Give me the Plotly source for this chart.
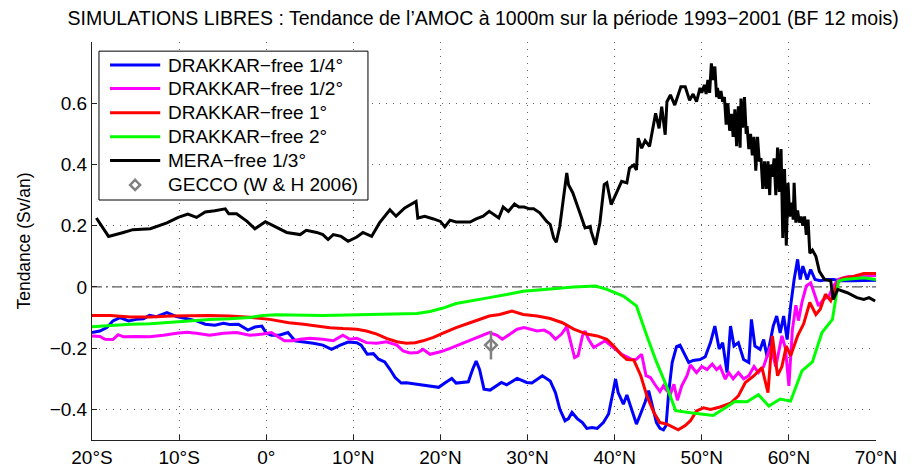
import plotly.graph_objects as go

# Latitude (deg, negative = south) and AMOC trend (Sv/an)
lat_mera = [-19.5, -18.1, -16.4, -15.3, -13.3, -11.4, -10.1, -9.0, -8.0, -7.0, -5.9, -4.7, -4.3, -3.4,
            -2.2, -1.3, -0.1, 1.0, 2.35, 3.9, 4.6, 5.8, 6.5, 7.1, 7.7, 8.6, 9.4, 10.4, 11.1, 12.1, 13.0,
            14.2, 14.9, 15.9, 16.5, 17.2, 17.4, 18.2, 19.2, 20.0, 20.5, 21.1, 21.8, 23.4, 24.1, 24.9,
            25.6, 26.7, 27.2, 27.8, 28.5, 29.0, 29.6, 30.2, 30.7, 31.4, 32.2, 32.6, 33.0, 33.3, 33.7,
            34.1, 34.5, 34.7, 35.2, 36.0, 36.6, 37.2, 37.3, 37.8, 38.3, 38.8, 39.1, 39.6, 40.0, 40.8,
            41.4, 41.7, 42.2, 42.5, 42.7, 43.1, 43.5, 44.0, 44.7, 45.1, 45.4, 45.8, 46.0, 46.4, 46.9,
            47.6, 48.1, 48.6, 49.0, 49.4,
            49.8, 50.0, 50.3, 50.5, 50.7, 50.9, 51.1, 51.3, 51.5, 51.7, 51.8, 52.0, 52.2, 52.4, 52.6,
            52.8, 53.0, 53.2, 53.4, 53.6, 53.8, 54.0, 54.2, 54.4, 54.5, 54.7, 54.9, 55.1, 55.2, 55.4,
            55.6, 55.8, 56.0, 56.2, 56.4, 56.6, 56.8, 57.0, 57.2, 57.4, 57.6, 57.8, 57.9, 58.1, 58.3,
            58.5, 58.7, 58.9, 59.1, 59.3, 59.5, 59.7, 59.9, 60.1, 60.3, 60.5, 60.6, 60.8, 61.0, 61.2,
            61.4, 61.6, 61.8, 62.0, 62.2, 62.4,
            62.7, 63.1, 63.5, 64.1, 64.8, 65.1, 65.6, 66.7, 67.8, 68.6, 69.2, 69.9]
mera = [0.225, 0.165, 0.178, 0.187, 0.19, 0.209, 0.227, 0.238, 0.227, 0.245, 0.249, 0.255, 0.239, 0.239,
        0.214, 0.19, 0.213, 0.198, 0.178, 0.171, 0.185, 0.178, 0.171, 0.155, 0.171, 0.165, 0.149, 0.163,
        0.178, 0.165, 0.209, 0.252, 0.231, 0.258, 0.269, 0.279, 0.225, 0.231, 0.222, 0.214, 0.196, 0.218,
        0.212, 0.212, 0.222, 0.231, 0.247, 0.225, 0.261, 0.247, 0.271, 0.261, 0.261, 0.255, 0.255, 0.242,
        0.214, 0.204, 0.16, 0.146, 0.198, 0.285, 0.372, 0.334, 0.307, 0.242, 0.193, 0.198, 0.181, 0.138,
        0.209, 0.334, 0.34, 0.269, 0.296, 0.345, 0.34, 0.388, 0.398, 0.382, 0.486, 0.453, 0.478, 0.459,
        0.567, 0.518, 0.589, 0.497, 0.605, 0.627, 0.594, 0.654, 0.654, 0.61, 0.63, 0.605,
        0.65, 0.634, 0.66, 0.63, 0.676, 0.634, 0.73, 0.676, 0.72, 0.62, 0.65, 0.615, 0.64, 0.605, 0.62,
        0.53, 0.6, 0.51, 0.565, 0.49, 0.58, 0.46, 0.59, 0.455, 0.615, 0.52, 0.62, 0.5, 0.525, 0.45,
        0.5, 0.43, 0.49, 0.38, 0.49, 0.41, 0.42, 0.32, 0.41, 0.32, 0.41, 0.30, 0.40, 0.36, 0.42,
        0.30, 0.455, 0.31, 0.45, 0.16, 0.385, 0.135, 0.34, 0.23, 0.275, 0.22, 0.34, 0.21, 0.25, 0.21,
        0.23, 0.2, 0.23, 0.17, 0.22, 0.11,
        0.12, 0.1, 0.051, 0.024, 0.02, -0.041, -0.008, -0.019, -0.035, -0.041, -0.035, -0.046]

lat_q4 = [-20.0, -19.1, -18.3, -17.6, -16.8, -15.8, -14.9, -14.1, -13.4, -12.6, -11.4, -10.3, -9.1, -8.0,
          -7.0, -5.9, -4.9, -4.2, -3.2, -2.1, -1.3, -0.5, 0.0, 0.6, 1.5, 2.5, 3.3, 4.3, 5.4, 6.5, 7.5,
          8.5, 9.4, 10.4, 10.9, 11.6, 12.3, 12.9, 13.6, 14.2, 14.8, 15.5, 16.1, 17.3, 18.4, 19.8, 20.5,
          21.3, 21.8, 23.2, 23.7, 24.1, 24.5, 25.0, 25.7, 26.5, 27.0, 27.6, 28.8, 29.9, 30.5, 31.7, 32.6,
          33.2, 33.7, 34.3, 34.7, 35.1, 35.7, 36.3, 36.8, 37.4, 38.0, 38.7, 39.3, 39.8, 40.1, 40.4, 41.0,
          41.4, 41.8, 42.5, 42.9, 43.5, 43.9, 44.3, 44.8, 45.2, 45.6, 45.9, 46.2, 46.6, 47.1, 47.5, 47.9,
          48.5, 49.0, 49.8, 50.4, 51.0, 51.5, 52.0, 52.4, 52.9, 53.3, 53.7, 54.2, 54.8, 55.4, 55.7, 56.1,
          56.7, 57.1, 57.5, 57.9, 58.2, 58.6, 59.0, 59.4, 59.8, 60.2, 60.6, 61.0, 61.3, 61.6, 62.1, 62.5,
          63.0, 63.6, 64.4, 65.1, 65.9, 67.4, 70.0]
drakkar_q4 = [-0.149, -0.144, -0.133, -0.111, -0.1, -0.111, -0.106, -0.104, -0.093, -0.097, -0.084, -0.097,
              -0.104, -0.111, -0.122, -0.125, -0.119, -0.123, -0.122, -0.141, -0.131, -0.128, -0.151, -0.158,
              -0.158, -0.149, -0.176, -0.179, -0.184, -0.19, -0.204, -0.19, -0.18, -0.182, -0.19, -0.22,
              -0.218, -0.236, -0.245, -0.269, -0.296, -0.314, -0.313, -0.318, -0.323, -0.328, -0.314, -0.299,
              -0.314, -0.31, -0.269, -0.242, -0.27, -0.334, -0.337, -0.323, -0.312, -0.32, -0.299, -0.312,
              -0.314, -0.29, -0.307, -0.345, -0.399, -0.437, -0.43, -0.41, -0.43, -0.443, -0.462, -0.459,
              -0.462, -0.443, -0.415, -0.345, -0.301, -0.345, -0.383, -0.353, -0.39, -0.448, -0.42, -0.376,
              -0.339, -0.387, -0.443, -0.462, -0.467, -0.453, -0.345, -0.247, -0.195, -0.19, -0.215, -0.247,
              -0.24, -0.237, -0.228, -0.182, -0.128, -0.203, -0.182, -0.28, -0.128, -0.193, -0.182, -0.237,
              -0.247, -0.106, -0.193, -0.204, -0.172, -0.228, -0.172, -0.128, -0.095, -0.15, -0.095, -0.172,
              -0.062, 0.024, 0.09, 0.024, 0.068, 0.024, 0.057, 0.024, 0.02, 0.024, 0.024, 0.02, 0.02, 0.022]

lat_q2 = [-20.0, -19.1, -18.5, -17.6, -17.0, -16.4, -14.9, -13.4, -11.8, -10.3, -9.1, -8.0, -6.5, -4.9,
          -3.4, -1.9, -0.4, 0.6, 1.5, 2.1, 3.0, 3.9, 5.0, 6.5, 7.7, 8.8, 9.6, 10.4, 11.5, 12.7, 13.8,
          15.0, 15.7, 16.5, 17.4, 18.0, 18.8, 20.0, 21.1, 22.6, 23.8, 24.7, 25.6, 26.5, 27.1, 28.0, 28.8,
          29.6, 30.3, 31.1, 31.9, 32.6, 33.2, 33.9, 34.5, 34.9, 35.4, 35.8, 36.3, 36.6, 37.0, 37.6, 38.2,
          38.9, 39.5, 40.1, 40.8, 41.4, 42.0, 42.5, 43.1, 43.6, 44.1, 44.6, 45.2, 45.6, 46.0, 46.4, 46.8,
          47.2, 47.7, 48.3, 48.7, 49.4, 50.0, 50.6, 51.2, 51.7, 52.1, 52.7, 53.1, 53.6, 54.2, 54.8, 55.4,
          56.0, 56.5, 57.1, 57.9, 58.5, 59.2, 59.6, 60.0, 60.4, 60.8, 61.1, 61.5, 62.0, 62.5, 62.9, 63.4,
          64.0, 64.6, 65.1, 65.7, 66.7, 70.0]
drakkar_q2 = [-0.16, -0.162, -0.171, -0.172, -0.156, -0.163, -0.162, -0.163, -0.158, -0.151, -0.148, -0.151,
              -0.158, -0.151, -0.149, -0.158, -0.154, -0.149, -0.165, -0.176, -0.176, -0.171, -0.168, -0.171,
              -0.176, -0.158, -0.171, -0.168, -0.182, -0.184, -0.179, -0.19, -0.209, -0.216, -0.214, -0.204,
              -0.22, -0.212, -0.201, -0.184, -0.172, -0.16, -0.149, -0.158, -0.171, -0.154, -0.138, -0.133,
              -0.138, -0.144, -0.141, -0.152, -0.171, -0.154, -0.13, -0.176, -0.231, -0.225, -0.16, -0.144,
              -0.171, -0.198, -0.187, -0.176, -0.19, -0.204, -0.22, -0.228, -0.237, -0.236, -0.22, -0.29,
              -0.296, -0.318, -0.342, -0.323, -0.339, -0.35, -0.318, -0.37, -0.323, -0.29, -0.255, -0.28,
              -0.26, -0.27, -0.252, -0.27, -0.26, -0.301, -0.28, -0.3, -0.28, -0.3, -0.29, -0.26, -0.28,
              -0.26, -0.193, -0.26, -0.16, -0.2, -0.323, -0.14, -0.06, -0.11, -0.05, 0.003, 0.013, -0.02,
              -0.062, -0.04, -0.03, 0.003, 0.025, 0.033, 0.037]

lat_1 = [-20.0, -17.9, -15.6, -13.3, -11.0, -8.8, -6.5, -4.2, -1.9, 0.4, 2.6, 4.3, 5.8, 7.3, 8.8, 10.4,
         11.5, 12.7, 13.8, 15.0, 16.1, 17.1, 18.0, 19.2, 20.3, 21.8, 23.4, 24.5, 25.6, 26.8, 28.2, 29.5,
         31.1, 32.6, 34.0, 35.3, 36.8, 38.0, 39.1, 39.9, 40.7, 41.4, 42.2, 43.0, 43.7, 44.5, 45.2, 46.0,
         46.8, 47.3, 48.1, 48.7, 49.4, 50.2, 51.0, 52.1, 53.3, 54.2, 55.0, 56.0, 56.9, 57.6, 58.1, 58.7,
         59.2, 59.7, 60.2, 61.0, 61.7, 62.4, 63.1, 63.6, 64.2, 64.8, 65.6, 66.1, 67.5, 68.6, 70.0]
drakkar_1 = [-0.093, -0.093, -0.098, -0.098, -0.095, -0.093, -0.093, -0.095, -0.099, -0.106, -0.117, -0.122,
             -0.128, -0.133, -0.136, -0.138, -0.144, -0.154, -0.168, -0.179, -0.184, -0.182, -0.176, -0.165,
             -0.151, -0.133, -0.117, -0.106, -0.095, -0.09, -0.079, -0.09, -0.095, -0.103, -0.117, -0.138,
             -0.154, -0.16, -0.171, -0.193, -0.22, -0.237, -0.239, -0.29, -0.356, -0.41, -0.443, -0.448,
             -0.459, -0.467, -0.453, -0.437, -0.405, -0.395, -0.4, -0.392, -0.38, -0.356, -0.312, -0.29,
             -0.263, -0.345, -0.16, -0.29, -0.26, -0.193, -0.225, -0.16, -0.12, -0.051, -0.09, -0.073,
             -0.024, -0.045, 0.013, 0.028, 0.035, 0.044, 0.044]

lat_2 = [-20.0, -17.9, -15.6, -13.3, -11.0, -8.8, -6.5, -4.2, -1.9, -0.4, 1.2, 6.5, 10.4, 14.2, 17.3, 18.8,
         20.3, 21.8, 23.8, 25.6, 27.6, 29.5, 33.3, 35.3, 37.8, 39.1, 41.0, 42.5, 43.7, 44.8, 46.0, 47.0,
         48.7, 51.3, 52.8, 53.8, 55.2, 56.5, 57.7, 59.0, 60.2, 61.5, 62.7, 63.8, 65.0, 65.7, 66.3, 67.8,
         68.6, 70.0]
drakkar_2 = [-0.13, -0.126, -0.122, -0.12, -0.115, -0.109, -0.106, -0.104, -0.1, -0.093, -0.091, -0.093,
             -0.091, -0.089, -0.087, -0.08, -0.069, -0.054, -0.043, -0.035, -0.025, -0.014, -0.005, 0.0,
             0.003, -0.008, -0.03, -0.062, -0.16, -0.245, -0.327, -0.404, -0.411, -0.42, -0.393, -0.374,
             -0.375, -0.352, -0.389, -0.366, -0.373, -0.274, -0.245, -0.149, -0.106, 0.019, 0.024, 0.027,
             0.03, 0.024]

gecco_lat = [25.8]
gecco = [-0.19]
gecco_err = [0.047]

x_ticks = [-20, -10, 0, 10, 20, 30, 40, 50, 60, 70]
x_labels = ["20°S", "10°S", "0°", "10°N", "20°N", "30°N", "40°N", "50°N", "60°N", "70°N"]
y_ticks = [-0.4, -0.2, 0, 0.2, 0.4, 0.6]
y_labels = ["\u22120.4", "\u22120.2", "0", "0.2", "0.4", "0.6"]

FONT = "Liberation Sans, Arial, sans-serif"
GREY = "#808080"

series = [
    ("DRAKKAR\u2212free 1/4°", lat_q4, drakkar_q4, "#0000ff"),
    ("DRAKKAR\u2212free 1/2°", lat_q2, drakkar_q2, "#ff00ff"),
    ("DRAKKAR\u2212free 1°", lat_1, drakkar_1, "#ff0000"),
    ("DRAKKAR\u2212free 2°", lat_2, drakkar_2, "#00ff00"),
    ("MERA\u2212free 1/3°", lat_mera, mera, "#000000"),
]
gecco_name = "GECCO (W & H 2006)"

fig = go.Figure()

for name, x, y, color in series:
    fig.add_trace(
        go.Scatter(name=name, mode="lines", x=x, y=y, line=dict(color=color, width=3), showlegend=False)
    )

fig.add_trace(
    go.Scatter(
        name=gecco_name,
        mode="markers",
        x=gecco_lat,
        y=gecco,
        marker=dict(symbol="diamond-open", size=9, color=GREY, line=dict(width=2.5, color=GREY)),
        error_y=dict(type="data", array=gecco_err, color=GREY, thickness=2.5, width=0),
        showlegend=False,
    )
)

fig.add_hline(y=0, line=dict(color="#333333", width=1, dash="10px,4px,2px,4px"), layer="below")

# legend drawn by hand (MATLAB-style box)
leg_rows = [0.942, 0.883, 0.822, 0.762, 0.702, 0.641]
fig.add_shape(type="rect", xref="paper", yref="paper", x0=0.0089, x1=0.352, y0=0.603, y1=0.977,
              line=dict(color="black", width=1), fillcolor="white", layer="above")
for (name, _, _, color), yy in zip(series, leg_rows):
    fig.add_shape(type="line", xref="paper", yref="paper", x0=0.023, x1=0.087, y0=yy, y1=yy,
                  line=dict(color=color, width=3), layer="above")
    fig.add_annotation(text=name, xref="paper", yref="paper", x=0.094, y=yy, xanchor="left",
                       yanchor="middle", showarrow=False, font=dict(size=19, color="black", family=FONT))
fig.add_shape(type="path", xref="paper", yref="paper", xsizemode="pixel", ysizemode="pixel",
              xanchor=0.055, yanchor=leg_rows[5], path="M0,5 L5,0 L0,-5 L-5,0 Z",
              line=dict(color=GREY, width=2.5), layer="above")
fig.add_annotation(text=gecco_name, xref="paper", yref="paper", x=0.094, y=leg_rows[5], xanchor="left",
                   yanchor="middle", showarrow=False, font=dict(size=19, color="black", family=FONT))

axis_style = dict(
    showline=True,
    linecolor="#222222",
    linewidth=1,
    ticks="inside",
    ticklen=5,
    tickcolor="#222222",
    showgrid=True,
    gridcolor="#666666",
    gridwidth=1,
    griddash="1px,6px",
    zeroline=False,
    tickfont=dict(size=19, color="black", family=FONT),
)
fig.update_xaxes(range=[-20, 70], tickvals=x_ticks, ticktext=x_labels, **axis_style)
fig.update_yaxes(
    range=[-0.5, 0.8],
    tickvals=y_ticks,
    ticktext=y_labels,
    title=dict(text="Tendance (Sv/an)", font=dict(size=17.5, color="black", family=FONT), standoff=14),
    **axis_style,
)

fig.update_layout(
    width=912,
    height=476,
    margin=dict(l=84, r=44, t=34, b=44),
    paper_bgcolor="white",
    plot_bgcolor="white",
    font=dict(family=FONT, color="black"),
    showlegend=False,
    title=dict(
        text="SIMULATIONS LIBRES : Tendance de l\u2019AMOC à 1000m sur la période 1993\u22122001 (BF 12 mois)",
        x=0.521,
        xanchor="center",
        y=0.979,
        yanchor="middle",
        font=dict(size=19.5, color="black", family=FONT),
    ),
)

fig.write_html("out.html")
